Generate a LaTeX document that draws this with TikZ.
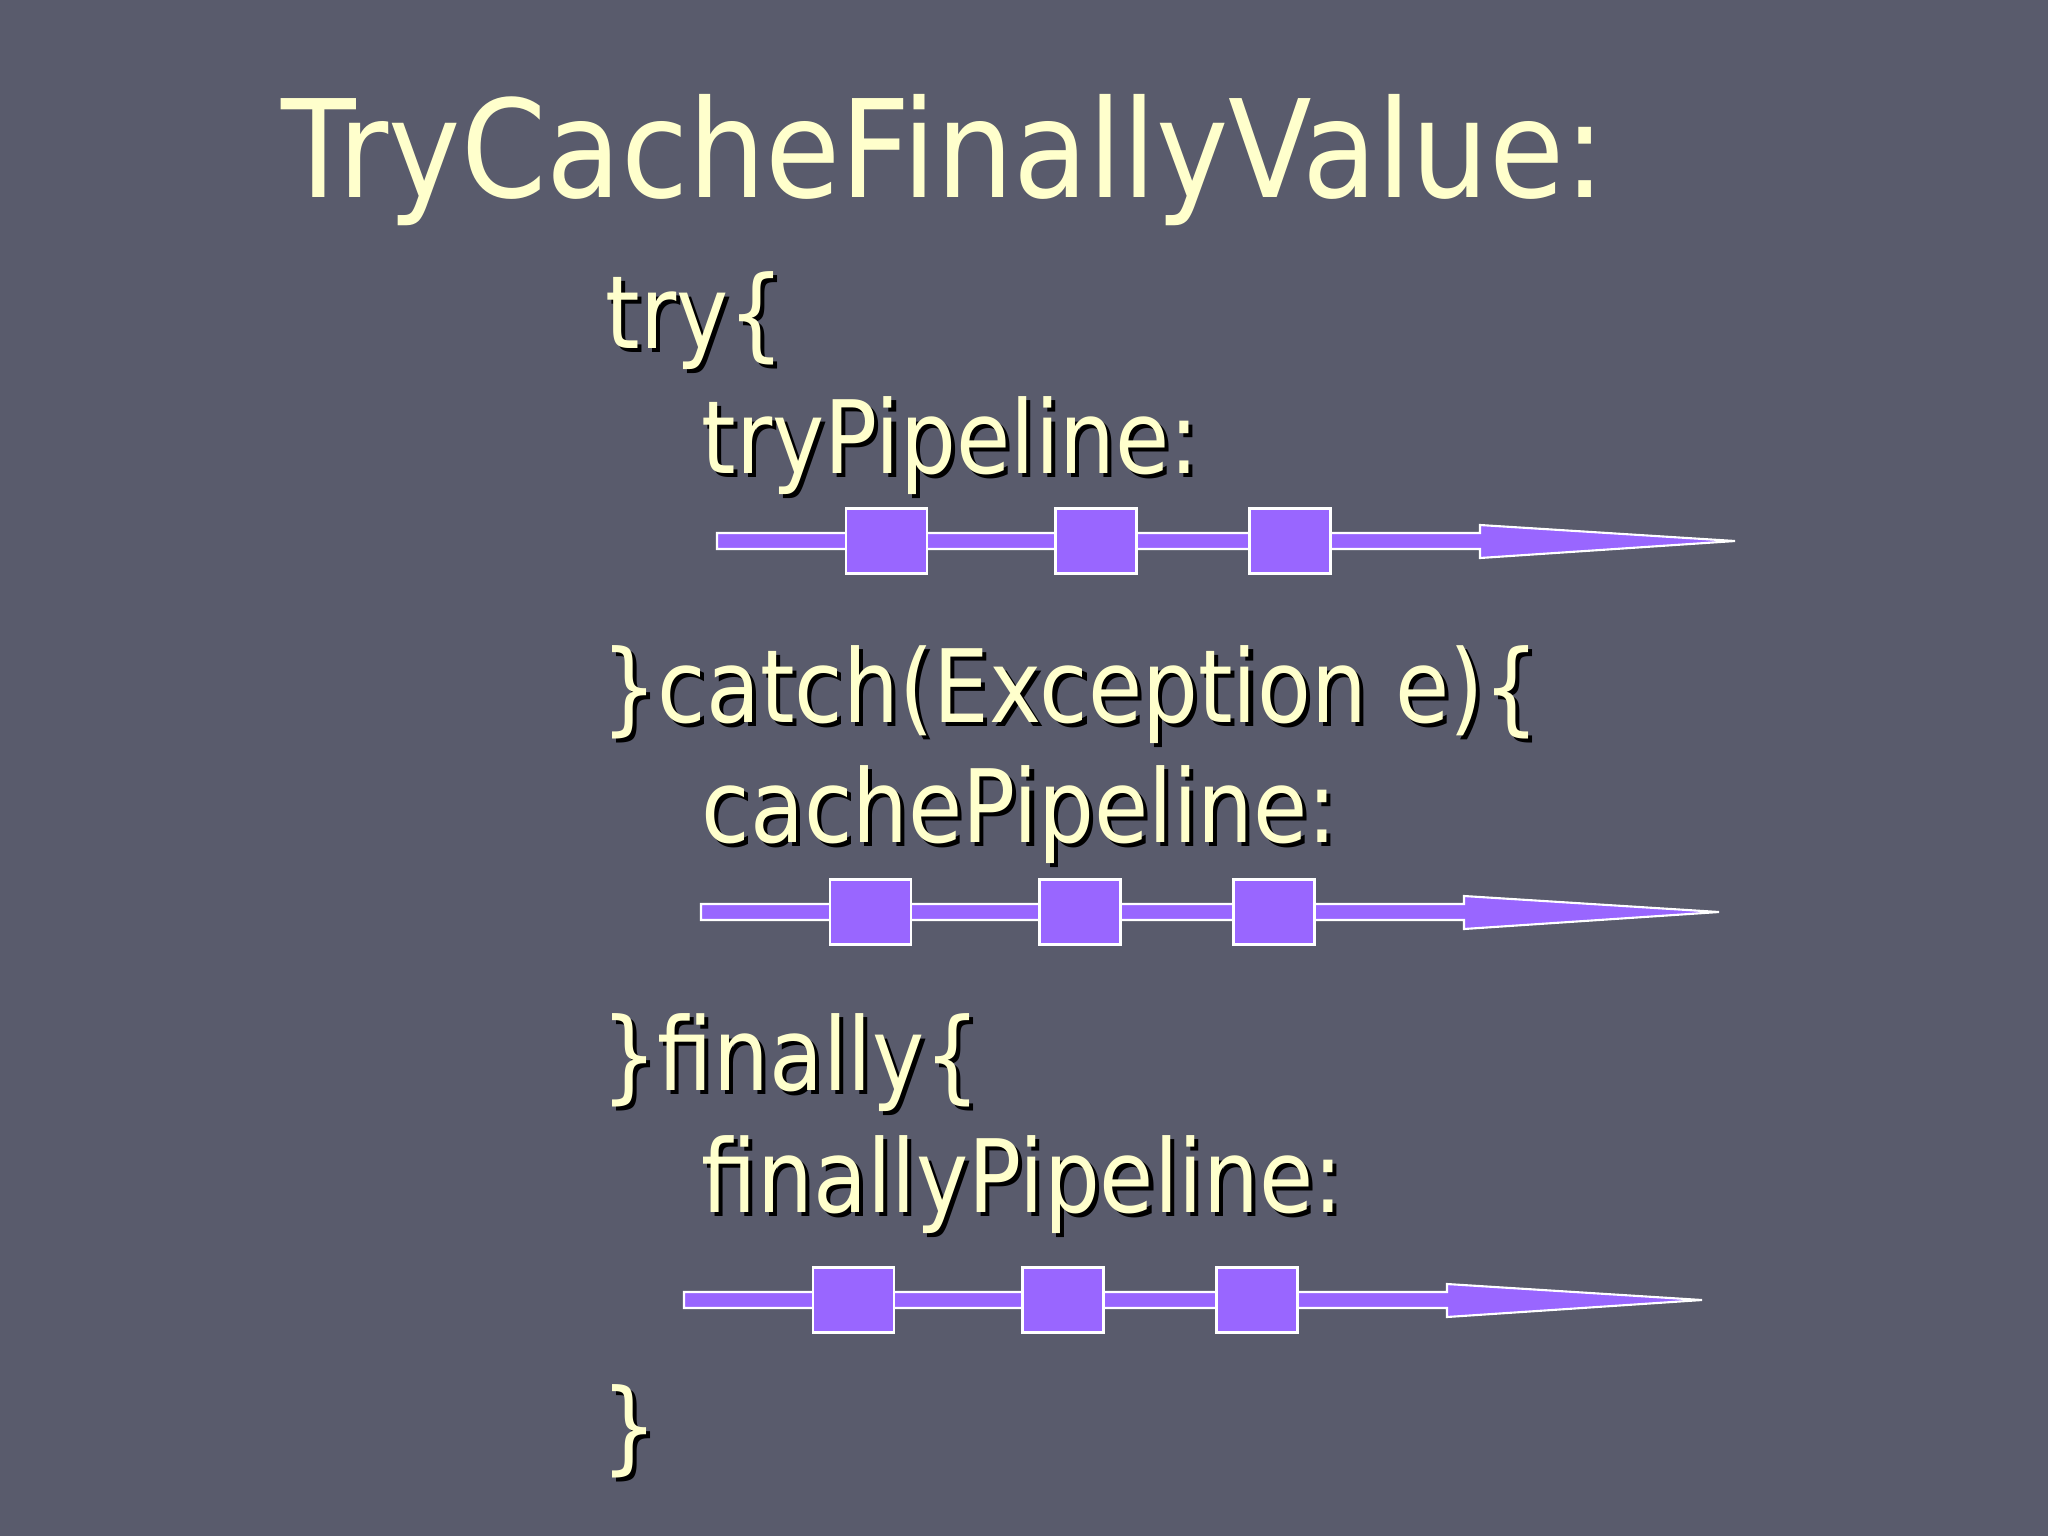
\documentclass[tikz,border=0pt]{standalone}
\usepackage{fontspec}
\newfontfamily\slidefont{DejaVu Sans}[FakeStretch=0.87]
\newfontfamily\headfont{DejaVu Sans}[FakeStretch=0.9]
\definecolor{slidebg}{RGB}{89,91,108}
\definecolor{slidetext}{RGB}{255,255,204}
\definecolor{pipe}{RGB}{153,102,255}
\newcommand{\shadowed}[1]{\makebox[0pt][l]{\hspace{1.2pt}\raisebox{-1.2pt}{\textcolor{black}{#1}}}#1}
\tikzset{
  title/.style={anchor=base west, inner sep=0pt, text=slidetext, font=\headfont\fontsize{38.6}{40}\selectfont},
  code/.style={anchor=base west, inner sep=0pt, text=slidetext, font=\slidefont\fontsize{28.8}{30}\selectfont},
  stage/.style={draw=white, fill=pipe, line width=0.6pt, minimum width=0.81cm, minimum height=0.65cm, inner sep=0pt},
  shaft/.style={draw=white, fill=pipe, line width=0.6pt}
}
\begin{document}
\begin{tikzpicture}[x=0.01cm, y=-0.01cm]
  \fill[slidebg] (0,0) rectangle (2048,1536);
  \node[title] (head) at (281,197) {TryCacheFinallyValue:};
  % code lines
  \node[code] (try) at (605,348) {\shadowed{try\{}};
  \node[code] (trylbl) at (701,473) {\shadowed{tryPipeline:}};
  \node[code] (catch) at (601,722) {\shadowed{\}catch(Exception e)\{}};
  \node[code] (cachelbl) at (701,842) {\shadowed{cachePipeline:}};
  \node[code] (finally) at (601,1090) {\shadowed{\}finally\{}};
  \node[code] (finallylbl) at (701,1212) {\shadowed{finallyPipeline:}};
  \node[code] (close) at (601,1461) {\shadowed{\}}};
  % pipelines
  \foreach \n/\dx/\yc in {try/0/541, cache/-16/912, finally/-33/1300} {
    \coordinate (\n-start) at (717+\dx,\yc);
    \coordinate (\n-end) at (1735+\dx,\yc);
    \draw[shaft] (\n-start) ++(0,-8) -- ++(763,0) -- ++(0,-8) -- (\n-end)
      -- ++(-255,17) -- ++(0,-9) -- ++(-763,0) -- cycle;
    \node[stage] (\n1) at (886.5+\dx,\yc) {};
    \node[stage] (\n2) at (1096+\dx,\yc) {};
    \node[stage] (\n3) at (1290+\dx,\yc) {};
  }
\end{tikzpicture}
\end{document}
